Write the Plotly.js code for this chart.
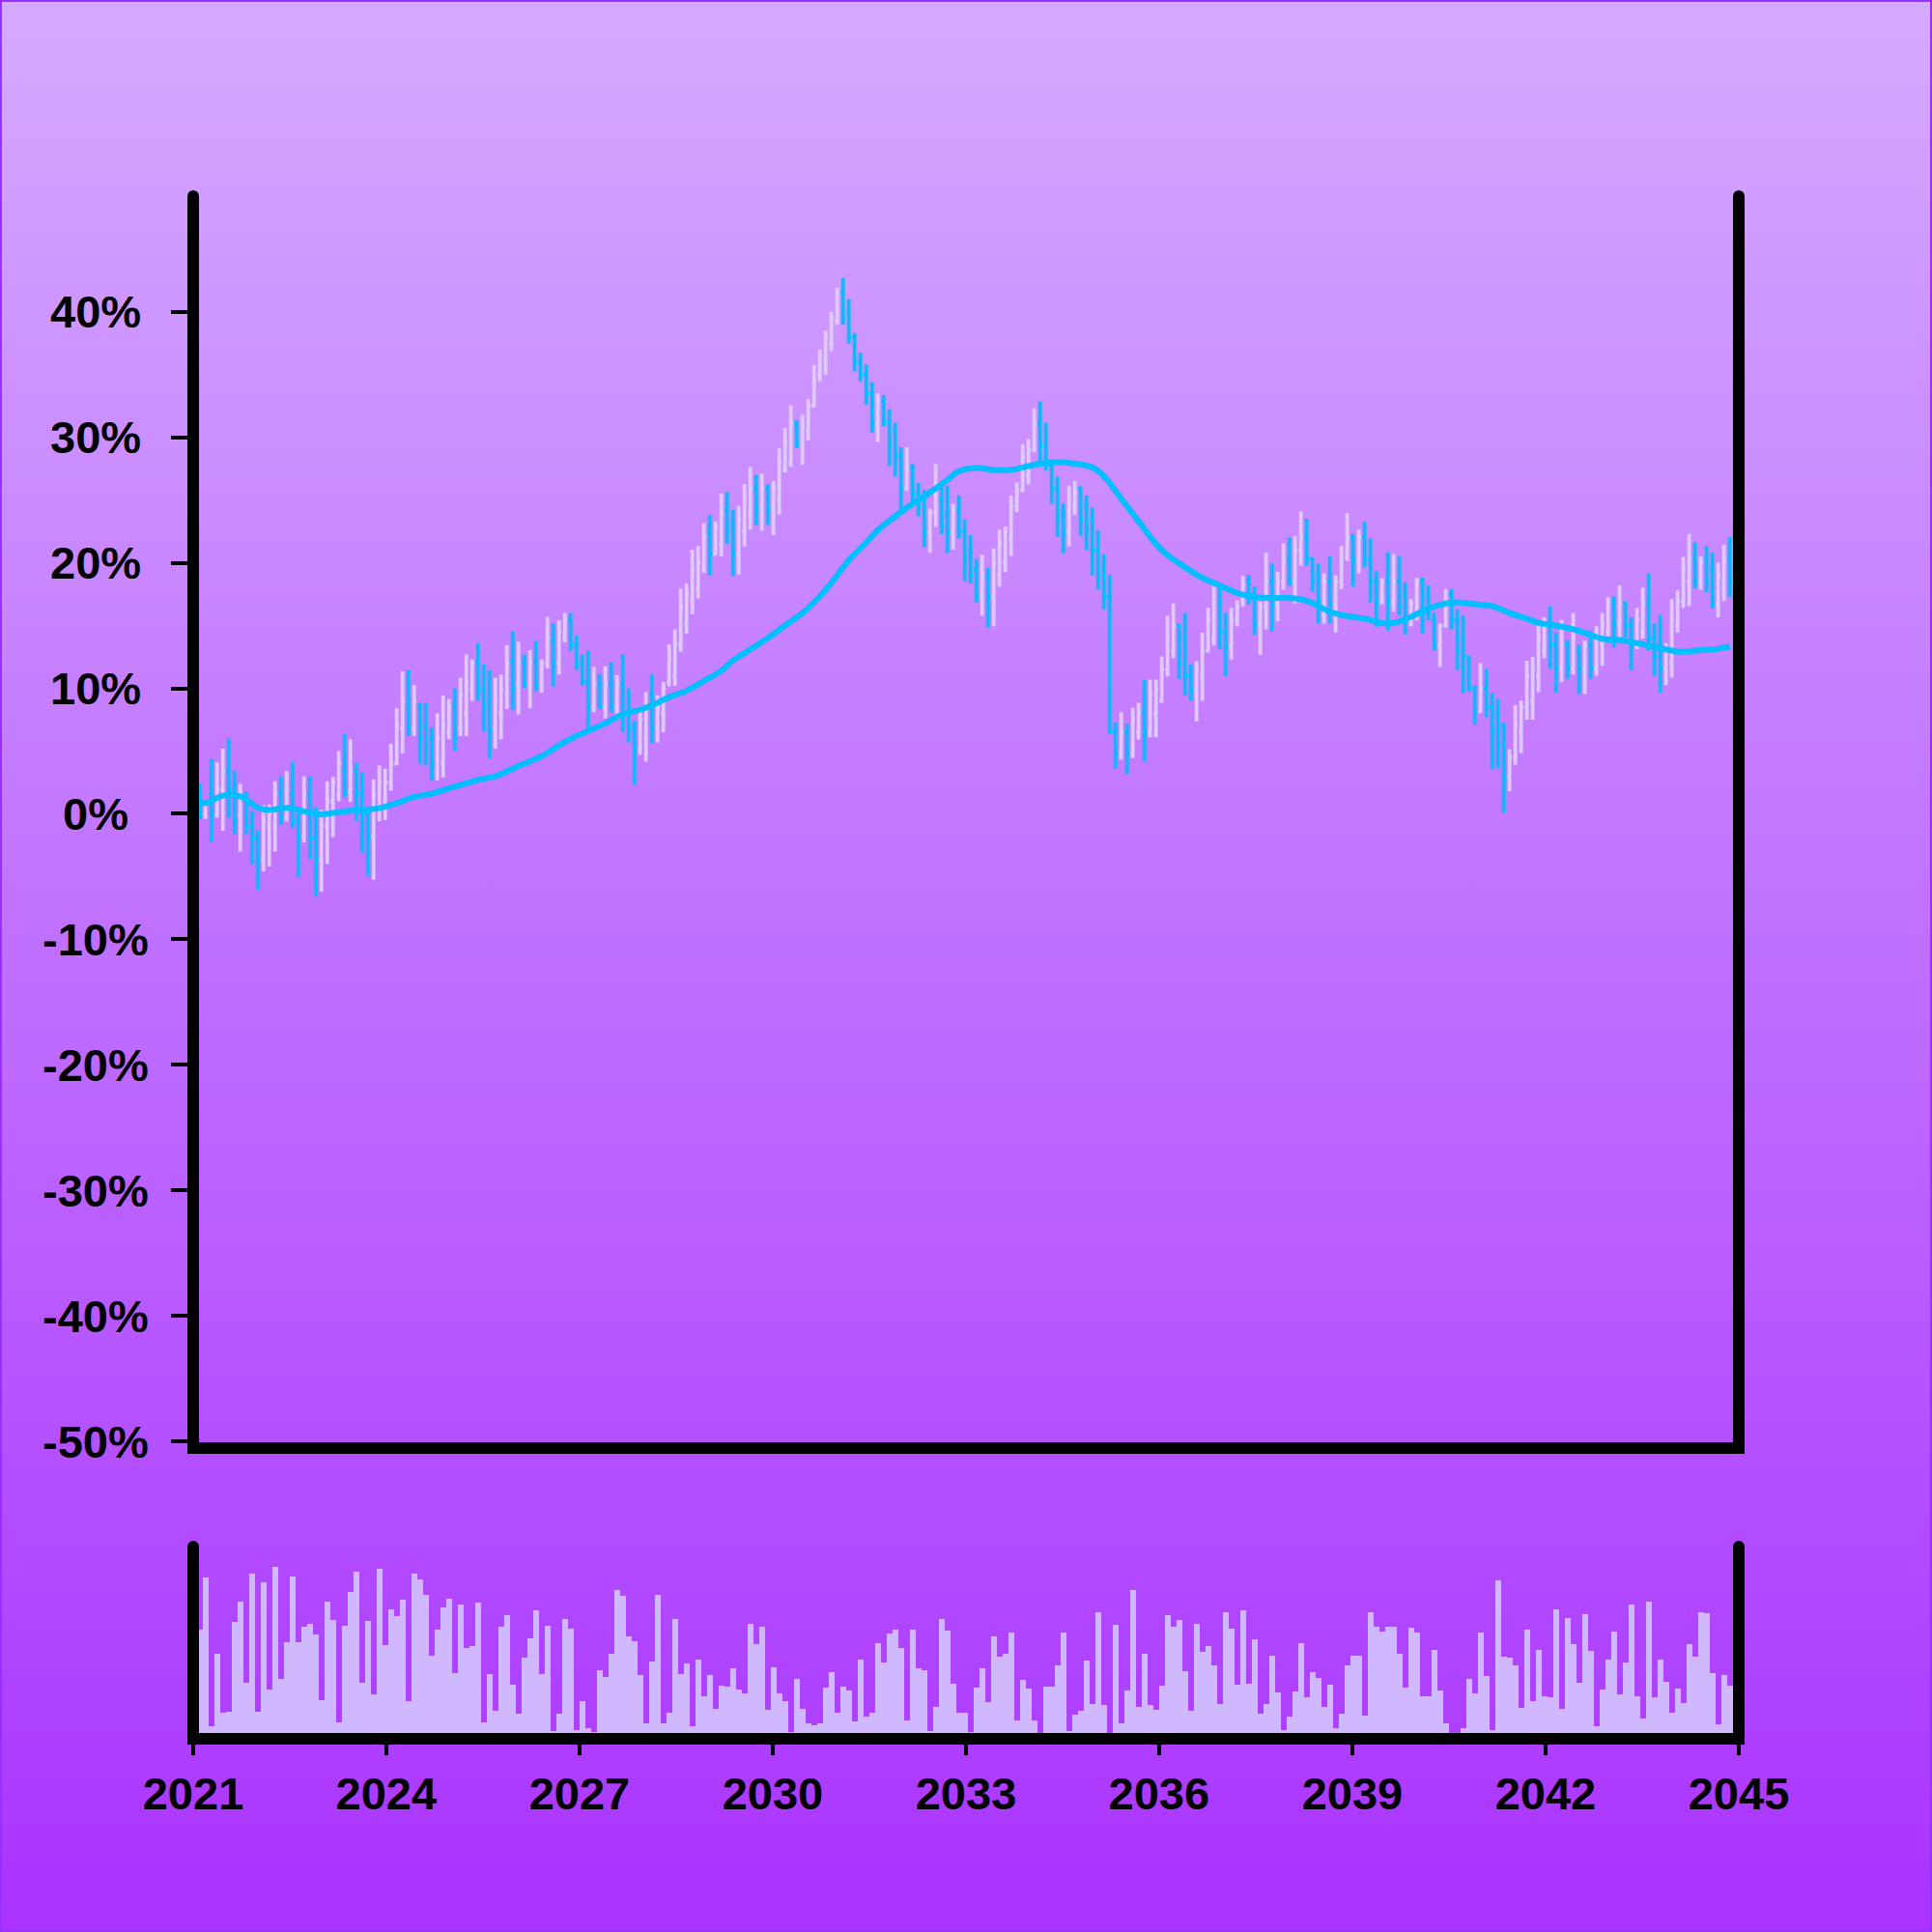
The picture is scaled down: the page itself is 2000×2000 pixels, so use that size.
<!DOCTYPE html>
<html>
<head>
<meta charset="utf-8">
<script src="https://cdn.plot.ly/plotly-3.0.1.min.js"></script>
<style>
html,body{margin:0;padding:0;}
#wrap{position:relative;width:2000px;height:2000px;background:linear-gradient(to bottom,#d5aaff 0%,#aa33ff 100%);box-shadow:inset 0 0 0 2px #9a30ff;}
#chart{position:absolute;left:0;top:0;width:2000px;height:2000px;}
</style>
</head>
<body>
<div id="wrap"><div id="chart"></div></div>
<script>
const open = [1.5,0.0,1.6,-0.1,2.0,3.4,2.0,-0.1,1.5,-1.0,
-1.9,-3.6,-1.0,-1.0,1.6,-0.3,1.6,-0.5,-1.8,1.5,
-1.9,-3.6,-1.0,1.0,1.5,3.4,1.8,3.4,1.6,0.0,
-1.8,0.5,1.0,2.5,4.0,6.8,8.6,6.8,8.6,7.0,
6.0,3.35,4.0,6.5,8.6,6.85,8.0,10.0,12.05,10.0,
9.0,6.85,8.0,9.5,12.05,10.25,12.05,10.25,12.05,10.25,
12.0,13.8,12.05,14.0,15.5,13.5,12.0,10.5,8.5,10.3,
8.5,10.3,8.5,10.3,8.0,6.9,5.1,6.0,9.5,6.9,
8.0,10.5,11.0,13.5,15.0,17.0,18.0,19.5,22.4,20.7,
21.5,24.2,23.0,20.7,22.5,24.0,25.9,24.2,25.9,24.2,
25.0,27.5,28.0,31.1,29.5,30.5,32.5,35.0,36.0,37.5,
39.3,41.5,40.0,38.0,36.0,35.0,33.5,31.1,32.9,31.2,
30.5,28.5,25.9,27.7,25.5,25.0,22.4,24.0,25.0,24.0,
22.4,24.2,22.5,21.0,19.5,17.3,18.9,17.3,19.0,20.0,
22.0,24.5,25.8,27.0,29.0,31.1,29.3,27.8,25.9,24.0,
22.4,24.5,25.9,24.5,23.5,21.0,19.5,17.3,6.5,4.7,
6.5,4.8,6.5,8.15,6.5,8.0,9.0,11.5,13.0,15.0,
14.0,11.0,9.95,11.0,13.0,14.0,16.8,14.5,13.3,15.5,
17.0,18.55,17.5,15.1,16.5,18.55,16.75,18.5,20.3,18.55,
21.0,22.0,20.35,19.0,15.8,18.55,16.75,18.5,20.5,22.0,
20.27,22.0,20.3,18.5,16.85,18.55,16.85,18.55,17.5,15.5,
16.0,18.55,17.5,15.5,13.4,15.0,17.5,15.5,14.0,12.5,
10.0,8.15,10.0,8.5,8.0,7.0,2.9,4.5,6.5,8.5,
9.0,11.0,13.0,15.0,13.5,11.6,13.5,11.6,13.0,11.6,
13.4,11.6,13.5,14.5,16.8,15.1,16.8,15.0,13.5,14.5,
16.8,14.0,13.5,11.6,12.0,15.0,17.0,18.5,20.3,18.55,
20.3,19.5,16.75,18.0,20.3];
const high = [2.4,1.0,4.4,4.1,5.2,6.0,3.4,2.4,1.8,0.25,
-1.35,0.7,0.75,2.6,3.0,3.4,4.15,0.05,3.0,3.0,
0.6,0.3,2.6,2.95,5.0,6.35,5.95,4.05,3.35,0.6,
2.75,3.85,3.6,5.6,8.4,11.35,11.45,10.25,8.85,8.85,
6.85,8.0,9.45,9.15,10.0,10.85,12.7,12.3,13.6,11.9,
11.45,10.85,11.1,13.45,14.55,13.7,12.65,13.05,13.8,12.3,
15.7,15.15,15.4,16.0,16.0,14.2,12.7,13.0,11.7,11.1,
11.75,12.1,11.05,12.7,10.0,7.4,8.55,9.7,11.1,9.45,
10.5,13.5,14.7,17.95,18.35,21.05,21.35,23.15,23.8,23.3,
25.5,25.65,24.2,24.55,26.25,27.65,27.0,27.1,26.25,26.5,
29.1,30.75,32.55,31.35,31.8,33.05,35.75,37.0,38.5,40.0,
41.9,42.7,41.0,38.3,36.75,35.8,34.4,33.5,33.35,32.25,
31.15,29.2,29.2,27.85,26.35,25.8,24.3,27.85,26.0,26.15,
24.7,25.35,23.45,22.2,20.3,20.65,19.6,21.15,22.65,22.9,
25.35,26.4,29.45,29.85,32.3,32.85,31.15,27.9,26.85,24.7,
26.15,26.5,26.1,25.35,24.4,22.6,20.7,19.05,7.25,8.1,
7.2,8.45,8.85,10.65,10.7,10.7,12.55,15.8,16.75,15.15,
16.0,11.9,12.15,14.45,16.4,18.1,18.4,16.0,16.4,17.0,
18.95,19.05,18.1,16.9,20.8,19.95,19.3,21.55,22.0,22.15,
24.1,23.5,20.4,19.95,19.15,20.5,19.0,21.35,23.95,22.3,
22.65,23.25,21.95,19.35,18.75,20.85,20.7,20.5,18.45,17.1,
18.8,18.8,18.2,16.0,15.15,17.9,17.95,16.3,15.8,12.55,
10.25,12.0,11.55,9.65,9.15,7.25,5.15,8.65,9.05,12.2,
12.5,15.1,15.65,16.5,14.45,15.45,13.85,16.0,13.5,13.8,
14.6,14.95,16.0,17.25,17.35,18.2,16.9,15.65,16.4,18.0,
19.15,15.15,15.85,13.6,17.1,17.8,20.45,22.3,21.65,20.5,
21.35,20.8,20.0,21.45,22.05];
const low = [-0.4,-0.4,-2.25,-0.3,-1.35,-0.3,-1.6,-3.0,-1.6,-4.0,
-6.05,-4.6,-4.2,-3.0,-0.9,-0.6,-1.1,-5.0,-2.3,-3.6,
-6.6,-6.2,-4.0,-1.85,1.0,1.35,0.95,-0.6,-3.1,-4.95,
-5.25,-0.6,-0.5,1.85,3.9,4.8,6.2,6.2,4.0,3.85,
2.65,2.65,2.9,5.95,5.0,6.2,6.2,9.0,9.0,6.55,
4.4,5.2,5.95,8.35,8.3,7.9,10.0,8.4,9.75,9.65,
11.6,10.15,11.1,13.65,12.95,11.45,10.2,6.8,8.1,8.35,
7.6,8.05,7.5,6.5,5.7,2.3,4.7,4.15,5.65,5.7,
6.5,10.15,10.2,12.9,14.35,15.9,17.15,19.2,19.0,20.6,
20.5,21.5,18.95,19.05,21.3,22.65,23.0,22.55,23.0,22.2,
23.85,27.2,27.65,29.15,27.8,29.75,32.4,34.45,35.0,36.85,
38.95,38.95,37.45,35.25,34.45,32.6,30.35,29.65,30.85,27.7,
26.85,24.05,25.75,24.55,23.7,21.25,20.8,22.85,22.3,20.75,
21.05,21.95,18.55,18.35,16.85,15.8,14.85,14.95,18.1,19.25,
20.55,24.05,25.6,26.25,28.8,28.05,27.35,24.7,22.05,20.75,
21.3,23.8,22.15,21.0,19.0,17.85,16.3,6.35,3.6,4.3,
3.2,4.45,5.9,4.15,6.1,6.1,8.85,10.95,12.4,10.75,
9.45,9.0,7.35,9.0,12.85,13.4,13.1,10.95,12.3,14.95,
16.5,16.65,14.25,12.65,14.7,14.5,15.35,17.85,18.15,16.75,
19.75,19.75,17.7,15.15,15.15,15.15,14.45,17.9,20.15,18.1,
19.15,19.65,16.85,14.9,16.7,14.6,16.1,15.8,14.3,14.95,
15.4,14.35,15.4,13.0,11.7,14.85,14.7,11.45,9.65,9.75,
7.1,8.05,7.7,3.55,3.65,0.1,1.8,3.9,4.85,7.5,
7.5,9.7,12.4,11.55,9.65,10.5,10.75,11.1,9.55,9.55,
10.75,11.0,11.8,14.05,13.25,13.95,14.05,11.45,13.1,13.95,
13.0,11.0,9.65,10.25,10.85,14.45,16.4,16.55,17.95,17.85,
17.65,16.35,15.65,16.95,17.25];
const close = [0.0,0.8,-0.1,2.0,3.4,2.0,-0.5,1.5,-1.0,-1.9,
-3.6,-0.5,0.0,1.5,-0.3,2.0,-0.5,-1.8,1.5,-1.9,
-3.6,-1.0,1.0,2.5,4.0,1.8,3.4,1.6,0.0,-1.8,
1.5,2.5,2.5,4.0,7.0,9.0,6.8,9.0,6.0,5.2,
4.0,6.0,7.0,8.5,6.0,9.5,10.5,12.0,10.0,8.5,
6.5,9.0,10.0,12.0,10.0,12.0,10.3,12.0,10.3,12.0,
14.0,12.0,14.5,15.5,13.5,12.0,10.5,8.5,10.3,8.5,
10.3,8.5,10.3,8.0,6.9,5.1,7.5,8.5,6.9,8.5,
10.0,12.5,13.5,16.5,17.5,19.5,20.0,22.0,20.7,22.8,
24.0,22.5,20.7,23.5,25.0,25.9,24.2,25.9,24.2,26.0,
28.0,29.5,31.1,29.5,31.0,32.5,34.5,36.5,38.0,39.5,
41.5,39.5,38.0,36.0,35.0,33.5,31.1,32.9,31.2,29.5,
28.5,25.9,27.7,25.5,24.5,22.4,24.0,26.0,23.0,22.4,
24.2,22.5,20.5,19.0,17.3,18.9,17.3,20.0,21.5,22.5,
24.5,25.8,28.5,29.0,31.1,29.3,27.8,25.9,23.5,22.4,
25.0,25.6,23.5,22.5,21.0,19.0,17.3,6.5,4.7,6.5,
4.8,7.5,8.15,6.5,9.5,10.0,11.5,14.0,15.0,12.0,
11.0,9.95,11.5,13.0,15.5,16.8,14.5,13.3,15.5,16.5,
18.3,17.5,15.1,16.5,18.55,16.75,18.5,20.3,18.55,21.0,
22.0,20.35,18.5,17.0,18.5,16.75,18.5,20.5,22.0,20.27,
22.0,20.3,18.5,16.85,18.55,16.85,18.55,16.5,15.5,16.8,
18.55,16.0,16.0,13.4,15.0,17.0,15.5,13.0,12.5,10.0,
8.15,10.0,8.5,6.5,5.5,2.9,4.5,7.0,8.5,11.0,
11.5,14.0,15.0,13.5,11.6,13.5,11.6,14.0,11.6,13.4,
11.6,14.0,15.0,16.8,15.1,16.8,15.0,13.5,15.5,16.8,
14.0,12.5,11.6,13.0,15.5,17.0,19.5,20.3,18.55,20.0,
18.5,16.75,19.0,20.3,18.55];
const volume = [322,482,22,247,64,67,344,407,157,494,65,467,134,515,169,282,485,282,329,339,305,102,408,351,34,332,437,502,157,347,119,509,274,385,362,415,99,494,477,428,239,322,389,416,185,400,263,271,406,34,182,69,330,365,150,59,233,294,381,182,332,7,61,353,323,9,
100,14,2,194,174,246,445,425,300,284,179,29,223,429,29,63,355,182,215,22,229,114,179,74,148,145,200,136,124,339,275,330,71,203,122,99,2,169,76,29,24,30,140,190,62,144,131,37,228,52,62,280,218,310,320,263,39,322,201,195,6,80,354,317,153,62,62,
4,141,202,96,299,236,246,312,40,164,137,39,0,144,144,209,311,6,57,69,225,91,374,86,0,336,29,132,444,81,246,87,71,146,366,331,351,191,68,338,252,269,210,89,374,323,150,381,153,290,60,90,240,126,8,50,128,279,112,189,171,80,150,14,60,210,240,
240,54,375,330,314,329,331,245,140,328,312,114,114,257,131,31,0,0,16,167,122,312,178,8,474,237,233,210,78,320,99,258,115,111,383,75,358,275,156,370,255,21,134,229,316,119,218,398,114,46,407,112,229,158,63,137,92,276,237,376,373,186,26,180,148];
const maIdx = [0,1,4,7,10,12,14,16,18,21,23,26,29,31,34,37,40,42,45,48,51,54,56,59,62,65,67,70,73,76,79,81,84,87,90,92,95,98,101,104,106,109,112,115,117,120,123,126,129,131,134,137,140,142,145,148,151,154,156,159,162,165,167,170,173,176,179,181,184,187,190,192,195,198,201,204,206,209,212,215,217,220,223,226,229,231,234,237,240,242,245,248,251,254,256,259,262,264];
const maVal = [0.96,0.85,1.45,1.4,0.5,0.3,0.45,0.45,0.2,-0.05,0.07,0.25,0.35,0.45,0.85,1.35,1.6,1.9,2.3,2.7,3.0,3.6,4.0,4.6,5.45,6.2,6.6,7.2,7.95,8.3,8.85,9.3,9.8,10.6,11.4,12.2,13.1,14.0,15.0,16.0,16.85,18.4,20.2,21.6,22.6,23.7,24.7,25.6,26.6,27.3,27.55,27.4,27.4,27.6,27.9,28.0,27.9,27.6,26.9,25.1,23.3,21.5,20.6,19.65,18.8,18.2,17.6,17.35,17.2,17.2,17.1,16.8,16.1,15.75,15.55,15.2,15.2,15.7,16.35,16.75,16.85,16.7,16.55,16.0,15.55,15.2,15.0,14.7,14.25,13.95,13.85,13.6,13.3,13.0,12.9,13.05,13.15,13.35];
const yTickVals = [-50,-40,-30,-20,-10,0,10,20,30,40];
const xTickYears = [2021,2024,2027,2030,2033,2036,2039,2042,2045];

const DAY = 86400000;
const startMs = Date.UTC(2021,0,1) + 36.7*DAY;
const stepMs = 32.87*DAY;
const dates = open.map((_, i) => startMs + i*stepMs);
const maDates = maIdx.map(i => startMs + i*stepMs);

const FONT = 'Liberation Sans, Arial, Helvetica, sans-serif';
const LW = 12;

const traces = [
  {type:'ohlc', x:dates, open:open, high:high, low:low, close:close,
   xaxis:'x', yaxis:'y', tickwidth:0.4, hoverinfo:'skip', showlegend:false,
   increasing:{line:{color:'#dfcaff', width:3.8}},
   decreasing:{line:{color:'#00bfff', width:3.8}}},
  {type:'scatter', mode:'lines', x:maDates, y:maVal, xaxis:'x', yaxis:'y',
   line:{color:'#00bfff', width:6, shape:'spline', smoothing:1}, hoverinfo:'skip', showlegend:false},
  {type:'bar', x:dates, y:volume, xaxis:'x2', yaxis:'y2',
   marker:{color:'#d0b8ff', line:{width:0}}, hoverinfo:'skip', showlegend:false}
];

// frame lines (spines) centred on the plot edges, in paper coordinates
const px = X => (X - 200) / 1600;
const py = Y => (1800 - Y) / 1600;
const seg = (x0, y0, x1, y1) => ({type:'line', xref:'paper', yref:'paper', x0:x0, y0:y0, x1:x1, y1:y1,
  line:{color:'#000', width:LW}, layer:'above'});
const cap = (X, Y) => ({type:'circle', xref:'paper', yref:'paper', x0:px(X-6), x1:px(X+6), y0:py(Y+6), y1:py(Y-6),
  fillcolor:'#000', line:{width:0}, layer:'above'});
const shapes = [
  seg(0, py(1499), 0, py(203)), seg(1, py(1499), 1, py(203)), seg(px(194), py(1499), px(1806), py(1499)),
  cap(200, 203), cap(1800, 203),
  seg(0, 0, 0, py(1601)), seg(1, 0, 1, py(1601)), seg(px(194), 0, px(1806), 0),
  cap(200, 1601), cap(1800, 1601)
];

const xr = ['2021-01-01','2045-01-01'];
const layout = {
  width:2000, height:2000,
  margin:{l:200, r:200, t:200, b:200, pad:0},
  paper_bgcolor:'rgba(0,0,0,0)', plot_bgcolor:'rgba(0,0,0,0)',
  showlegend:false, bargap:0,
  font:{family:FONT, size:47, color:'#000', weight:700},
  xaxis:{type:'date', range:xr, anchor:'y', showline:false,
    ticks:'', showticklabels:false, showgrid:false, zeroline:false, rangeslider:{visible:false}},
  yaxis:{domain:[py(1499),1], range:[-50.52,49.44], anchor:'x', showline:false,
    ticks:'outside', ticklen:22, tickwidth:4, tickcolor:'#000', tickmode:'array', tickvals:yTickVals,
    showticklabels:false, showgrid:false, zeroline:false},
  xaxis2:{type:'date', range:xr, anchor:'y2', showline:false,
    ticks:'outside', ticklen:16, tickwidth:4, tickcolor:'#000', tickmode:'array',
    tickvals:xTickYears.map(y => y + '-01-01'), ticktext:xTickYears.map(String),
    tickfont:{family:FONT, size:47, color:'#000', weight:700},
    showgrid:false, zeroline:false},
  yaxis2:{domain:[0,py(1600)], range:[-18,582], anchor:'x2', showline:false,
    ticks:'', showticklabels:false, showgrid:false, zeroline:false},
  shapes: shapes,
  annotations: yTickVals.map(v => ({
    xref:'paper', yref:'y', x:px(99), y:v, text: v + '%', showarrow:false,
    xanchor:'center', yanchor:'middle',
    font:{family:FONT, size:47, color:'#000', weight:700}
  }))
};

Plotly.newPlot('chart', traces, layout, {staticPlot:true, displayModeBar:false});
</script>
</body>
</html>
